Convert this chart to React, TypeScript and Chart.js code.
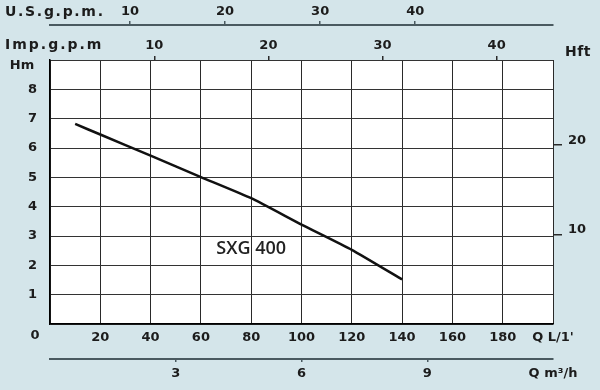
import React, { useEffect, useRef } from 'react';
import { Chart, registerables } from 'chart.js';

Chart.register(...registerables);

// Pump curve SXG 400: flow (L/min) vs head (m)
const flowLpm = [10, 20, 40, 60, 80, 100, 120, 140];
const headM = [6.82, 6.46, 5.74, 5.01, 4.29, 3.39, 2.53, 1.52];

// Axis tick values
const lpmTicks = [0, 20, 40, 60, 80, 100, 120, 140, 160, 180, 200];
const mTicks = [0, 1, 2, 3, 4, 5, 6, 7, 8, 9];
const ftTicks = [10, 20];
const usTicks = [10, 20, 30, 40];
const impTicks = [10, 20, 30, 40];
const m3Ticks = [0, 3, 6, 9, 12];

const curveName = 'SXG 400';
const curveLabelFlow = 80;
const curveLabelHead = 2.57;

const BG = '#d4e5ea';
const INK = '#1c1c1c';
const SLATE = '#4a5a60';
const GRID = '#2a2a2a';
const FONT = 'DejaVu Sans';

const setTicks = (vals: number[]) => (s: any) => {
  s.ticks = vals.map((v) => ({ value: v }));
};

const plotBg = {
  id: 'plotBg',
  beforeDraw(chart: any) {
    const { ctx, chartArea: a } = chart;
    ctx.save();
    ctx.fillStyle = '#ffffff';
    ctx.fillRect(a.left, a.top, a.right - a.left, a.bottom - a.top);
    ctx.restore();
  },
};

const extraText = {
  id: 'extraText',
  afterDraw(chart: any) {
    const ctx = chart.ctx;
    ctx.save();
    ctx.fillStyle = INK;
    ctx.textBaseline = 'middle';
    ctx.font = `bold 14px "${FONT}"`;
    ctx.textAlign = 'left';
    (ctx as any).letterSpacing = '1.7px';
    ctx.fillText('U.S.g.p.m.', 5, 12);
    (ctx as any).letterSpacing = '2px';
    ctx.fillText('Imp.g.p.m', 5, 45);
    (ctx as any).letterSpacing = '0.5px';
    ctx.textAlign = 'center';
    ctx.fillText('Hft', 578, 52);
    ctx.font = `bold 13px "${FONT}"`;
    (ctx as any).letterSpacing = '0px';
    ctx.fillText('Hm', 22, 66);
    ctx.fillText('0', 35, 336);
    const xs = chart.scales.x;
    const ys = chart.scales.y;
    ctx.font = `600 18px "Open Sans"`;
    ctx.fillStyle = '#222';
    ctx.fillText(curveName, xs.getPixelForValue(curveLabelFlow), ys.getPixelForValue(curveLabelHead));
    ctx.restore();
  },
};

export default function App() {
  const ref = useRef<HTMLCanvasElement>(null);
  useEffect(() => {
    if (!ref.current) return;
    const tickFont = { family: FONT, size: 13, weight: 'bold' as const };
    const chart = new Chart(ref.current, {
      type: 'line',
      data: {
        datasets: [
          {
            label: curveName,
            data: flowLpm.map((x, i) => ({ x, y: headM[i] })),
            borderColor: '#111',
            borderWidth: 2.5,
            pointRadius: 0,
            tension: 0.15,
            xAxisID: 'x',
            yAxisID: 'y',
          },
        ],
      },
      options: {
        animation: false,
        responsive: true,
        maintainAspectRatio: false,
        layout: { padding: 0 },
        plugins: { legend: { display: false }, tooltip: { enabled: false } },
        scales: {
          x: {
            type: 'linear',
            position: 'bottom',
            weight: 0,
            min: 0,
            max: 200,
            afterBuildTicks: setTicks(lpmTicks),
            afterFit: (s: any) => { s.height = 35; },
            grid: { color: GRID, lineWidth: 1, drawTicks: false },
            border: { display: true, color: '#000', width: 1.5 },
            ticks: {
              autoSkip: false,
              maxRotation: 0,
              padding: 6,
              color: INK,
              font: tickFont,
              callback: (v: any) => (v === 0 ? '' : v === 200 ? "Q L/1'" : String(v)),
            },
          },
          xM3: {
            type: 'linear',
            position: 'bottom',
            weight: 1,
            min: 0,
            max: 12,
            afterBuildTicks: setTicks(m3Ticks),
            afterFit: (s: any) => { s.height = 31; },
            grid: {
              drawOnChartArea: false,
              drawTicks: true,
              tickLength: 3,
              lineWidth: 1.5,
              color: (c: any) => (c.tick && (c.tick.value === 0 || c.tick.value === 12) ? 'rgba(0,0,0,0)' : SLATE),
            },
            border: { display: true, color: SLATE, width: 2 },
            ticks: {
              autoSkip: false,
              maxRotation: 0,
              padding: 4,
              color: INK,
              font: tickFont,
              callback: (v: any) => (v === 0 ? '' : v === 12 ? 'Q m³/h' : String(v)),
            },
          },
          xImp: {
            type: 'linear',
            position: 'top',
            weight: 1,
            min: 0.86,
            max: 44.94,
            afterBuildTicks: setTicks(impTicks),
            afterFit: (s: any) => { s.height = 35; },
            grid: { drawOnChartArea: false, drawTicks: true, tickLength: 4, lineWidth: 1.5, color: GRID },
            border: { display: false },
            ticks: { autoSkip: false, maxRotation: 0, padding: 3, color: INK, font: tickFont },
          },
          xUS: {
            type: 'linear',
            position: 'top',
            weight: 2,
            min: 1.58,
            max: 54.5,
            afterBuildTicks: setTicks(usTicks),
            afterFit: (s: any) => { s.height = 25; },
            grid: { drawOnChartArea: false, drawTicks: true, tickLength: 4, lineWidth: 1.5, color: SLATE },
            border: { display: true, color: SLATE, width: 2 },
            ticks: { autoSkip: false, maxRotation: 0, padding: 2, color: INK, font: tickFont },
          },
          y: {
            type: 'linear',
            position: 'left',
            min: 0,
            max: 9,
            afterBuildTicks: setTicks(mTicks),
            afterFit: (s: any) => { s.width = 50; },
            grid: { color: '#333', lineWidth: 1, drawTicks: false },
            border: { display: true, color: '#000', width: 1.5 },
            ticks: {
              autoSkip: false,
              padding: 13,
              color: INK,
              font: tickFont,
              callback: (v: any) => (v >= 1 && v <= 8 ? String(v) : ''),
            },
          },
          yFt: {
            type: 'linear',
            position: 'right',
            min: 0,
            max: 9 * 3.28084,
            afterBuildTicks: setTicks(ftTicks),
            afterFit: (s: any) => { s.width = 47; },
            grid: { drawOnChartArea: false, drawTicks: true, tickLength: 9, lineWidth: 1.5, color: GRID },
            border: { display: false },
            ticks: { autoSkip: false, padding: 6, labelOffset: -5, color: INK, font: tickFont },
          },
        },
      } as any,
      plugins: [plotBg, extraText],
    });
    return () => chart.destroy();
  }, []);
  return (
    <div style={{ position: 'fixed', left: 0, top: 0, width: 600, height: 390, background: BG }}>
      <canvas ref={ref} />
    </div>
  );
}
